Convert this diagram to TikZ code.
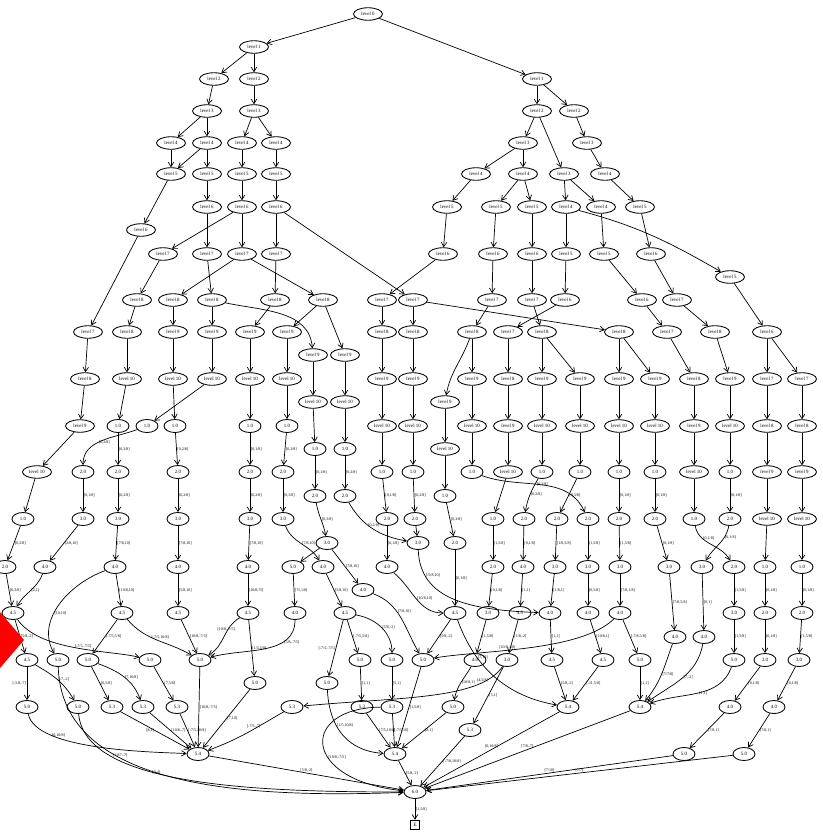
\documentclass[tikz,border=0pt]{standalone}
\usepackage{fontspec}
\setmainfont{Liberation Serif}
\usetikzlibrary{shapes.geometric,arrows.meta}
\begin{document}
\begin{tikzpicture}[x=1pt,y=-1pt,
 lv/.style={ellipse,draw,line width=0.85pt,minimum width=29pt,minimum height=12.5pt,inner sep=0pt,font=\fontsize{4.9}{5}\selectfont},
 nm/.style={ellipse,draw,line width=0.85pt,minimum width=22pt,minimum height=13pt,inner sep=0pt,font=\fontsize{4.9}{5}\selectfont},
 ed/.style={-{Straight Barb[length=4.5pt,width=5.5pt]},line width=0.7pt},
 lb/.style={font=\fontsize{4}{4.5}\selectfont,inner sep=0.6pt,right}]
\useasboundingbox (0,0) rectangle (822,835);
% ---------- top left tree
\node[lv] (n0) at (368,14) {level 0};
\node[lv] (a1) at (254,47) {level 1};
\node[lv] (a2) at (214,79) {level 2};
\node[lv] (a3) at (254,79) {level 2};
\node[lv] (a4) at (207,111) {level 3};
\node[lv] (a5) at (254,111) {level 3};
\node[lv] (a6) at (171,143) {level 4};
\node[lv] (a7) at (207,143) {level 4};
\node[lv] (a8) at (242,143) {level 4};
\node[lv] (a9) at (276,143) {level 4};
\node[lv] (a10) at (171,174) {level 5};
\node[lv] (a11) at (207,174) {level 5};
\node[lv] (a12) at (242,174) {level 5};
\node[lv] (a13) at (276,174) {level 5};
\node[lv] (a14) at (207,207) {level 6};
\node[lv] (a15) at (242,207) {level 6};
\node[lv] (a16) at (276,207) {level 6};
\node[lv] (a17) at (141,230) {level 6};
\node[lv] (a18) at (163,254) {level 7};
\node[lv] (a19) at (207,254) {level 7};
\node[lv] (a20) at (242,254) {level 7};
\node[lv] (a21) at (276,254) {level 7};
\node[lv] (c1) at (137,300) {level 8};
\node[lv] (c2) at (173,300) {level 8};
\node[lv] (c3) at (212,300) {level 8};
\node[lv] (c4) at (275,300) {level 8};
\node[lv] (c5) at (323,300) {level 8};
\node[lv] (d1) at (88,332) {level 7};
\node[lv] (d2) at (127,332) {level 8};
\node[lv] (d3) at (173,332) {level 9};
\node[lv] (d4) at (212,332) {level 9};
\node[lv] (d5) at (250,332) {level 9};
\node[lv] (d6) at (287,332) {level 9};
\node[lv] (e1) at (313,355) {level 9};
\node[lv] (e2) at (345,355) {level 9};
\node[lv] (f1) at (85,379) {level 8};
\node[lv] (f2) at (127,379) {level 10};
\node[lv] (f3) at (173,379) {level 10};
\node[lv] (f4) at (212,379) {level 10};
\node[lv] (f5) at (250,379) {level 10};
\node[lv] (f6) at (287,379) {level 10};
\node[lv] (g1) at (313,402) {level 10};
\node[lv] (g2) at (345,402) {level 10};
\node[lv] (h1) at (80,426) {level 9};
\node[nm] (h2) at (118,426) {1.0};
\node[nm] (h3) at (147,426) {1.0};
\node[nm] (h4) at (175,426) {1.0};
\node[nm] (h5) at (250,426) {1.0};
\node[nm] (h6) at (287,426) {1.0};
\node[nm] (i1) at (315,449) {1.0};
\node[nm] (i2) at (345,449) {1.0};
\node[lv] (j1) at (37,472) {level 10};
\node[nm] (j2) at (83,472) {2.0};
\node[nm] (j3) at (118,472) {2.0};
\node[nm] (j4) at (178,472) {2.0};
\node[nm] (j5) at (250,472) {2.0};
\node[nm] (j6) at (283,472) {2.0};
\node[nm] (k1) at (315,496) {2.0};
\node[nm] (k2) at (345,496) {2.0};
\node[nm] (l1) at (23,519) {1.0};
\node[nm] (l2) at (83,519) {3.0};
\node[nm] (l3) at (118,519) {3.0};
\node[nm] (l4) at (178,519) {3.0};
\node[nm] (l5) at (250,519) {3.0};
\node[nm] (l6) at (283,519) {3.0};
\node[nm] (m1) at (327,543) {3.0};
% ---------- top right tree
\node[lv] (b1) at (537,79) {level 1};
\node[lv] (b2) at (537,111) {level 2};
\node[lv] (b3) at (574,111) {level 2};
\node[lv] (b4) at (523,143) {level 3};
\node[lv] (b5) at (587,143) {level 3};
\node[lv] (b6) at (476,174) {level 4};
\node[lv] (b7) at (523,174) {level 4};
\node[lv] (b8) at (564,174) {level 3};
\node[lv] (b9) at (605,174) {level 4};
\node[lv] (b10) at (447,207) {level 5};
\node[lv] (b11) at (496,207) {level 5};
\node[lv] (b12) at (532,207) {level 5};
\node[lv] (b13) at (566,207) {level 4};
\node[lv] (b14) at (601,207) {level 4};
\node[lv] (b15) at (640,207) {level 5};
\node[lv] (b16) at (443,254) {level 6};
\node[lv] (b17) at (493,254) {level 6};
\node[lv] (b18) at (532,254) {level 6};
\node[lv] (b19) at (566,254) {level 5};
\node[lv] (b20) at (604,254) {level 5};
\node[lv] (b21) at (651,254) {level 6};
\node[lv] (b22) at (730,277) {level 5};
\node[lv] (p1) at (382,300) {level 7};
\node[lv] (p2) at (413,300) {level 7};
\node[lv] (p3) at (492,300) {level 7};
\node[lv] (p4) at (532,300) {level 7};
\node[lv] (p5) at (565,300) {level 6};
\node[lv] (p6) at (642,300) {level 6};
\node[lv] (p7) at (677,300) {level 7};
\node[lv] (q1) at (382,332) {level 8};
\node[lv] (q2) at (413,332) {level 8};
\node[lv] (q3) at (472,332) {level 8};
\node[lv] (q4) at (508,332) {level 7};
\node[lv] (q5) at (542,332) {level 8};
\node[lv] (q6) at (619,332) {level 8};
\node[lv] (q7) at (667,332) {level 7};
\node[lv] (q8) at (715,332) {level 8};
\node[lv] (q9) at (767,332) {level 6};
\node[lv] (r1) at (382,379) {level 9};
\node[lv] (r2) at (413,379) {level 9};
\node[lv] (r3) at (472,379) {level 9};
\node[lv] (r4) at (508,379) {level 8};
\node[lv] (r5) at (542,379) {level 9};
\node[lv] (r6) at (580,379) {level 9};
\node[lv] (r7) at (619,379) {level 9};
\node[lv] (r8) at (655,379) {level 9};
\node[lv] (r9) at (694,379) {level 8};
\node[lv] (r10) at (730,379) {level 9};
\node[lv] (r11) at (767,379) {level 7};
\node[lv] (r12) at (802,379) {level 7};
\node[lv] (s1) at (445,402) {level 9};
\node[lv] (t1) at (382,426) {level 10};
\node[lv] (t2) at (413,426) {level 10};
\node[lv] (t3) at (472,426) {level 10};
\node[lv] (t4) at (508,426) {level 9};
\node[lv] (t5) at (542,426) {level 10};
\node[lv] (t6) at (580,426) {level 10};
\node[lv] (t7) at (619,426) {level 10};
\node[lv] (t8) at (655,426) {level 10};
\node[lv] (t9) at (694,426) {level 9};
\node[lv] (t10) at (730,426) {level 10};
\node[lv] (t11) at (767,426) {level 8};
\node[lv] (t12) at (802,426) {level 8};
\node[lv] (u1) at (445,449) {level 10};
\node[nm] (v1) at (382,472) {1.0};
\node[nm] (v2) at (413,472) {1.0};
\node[nm] (v3) at (472,472) {1.0};
\node[lv] (v4) at (508,472) {level 10};
\node[nm] (v5) at (542,472) {1.0};
\node[nm] (v6) at (580,472) {1.0};
\node[nm] (v7) at (619,472) {1.0};
\node[nm] (v8) at (655,472) {1.0};
\node[lv] (v9) at (694,472) {level 10};
\node[nm] (v10) at (730,472) {1.0};
\node[lv] (v11) at (767,472) {level 9};
\node[lv] (v12) at (802,472) {level 9};
\node[nm] (w1) at (445,496) {1.0};
\node[nm] (x1) at (387,519) {2.0};
\node[nm] (x2) at (415,519) {2.0};
\node[nm] (x3) at (493,519) {1.0};
\node[nm] (x4) at (524,519) {2.0};
\node[nm] (x5) at (557,519) {2.0};
\node[nm] (x6) at (588,519) {2.0};
\node[nm] (x7) at (619,519) {2.0};
\node[nm] (x8) at (655,519) {2.0};
\node[nm] (x9) at (694,519) {1.0};
\node[nm] (x10) at (730,519) {2.0};
\node[lv] (x11) at (767,519) {level 10};
\node[lv] (x12) at (802,519) {level 10};
\node[nm] (y1) at (418,543) {3.0};
\node[nm] (y2) at (455,543) {2.0};
% ---------- row 567
\node[nm] (z1) at (5,567) {2.0};
\node[nm] (z2) at (45,567) {4.0};
\node[nm] (z3) at (115,567) {4.0};
\node[nm] (z4) at (178,567) {4.0};
\node[nm] (z5) at (248,567) {4.0};
\node[nm] (z6) at (293,567) {5.0};
\node[nm] (z7) at (323,567) {4.0};
\node[nm] (z8) at (387,567) {4.0};
\node[nm] (z19) at (363,590) {4.0};
\node[nm] (z9) at (493,567) {2.0};
\node[nm] (z10) at (523,567) {4.0};
\node[nm] (z11) at (555,567) {3.0};
\node[nm] (z12) at (588,567) {3.0};
\node[nm] (z13) at (620,567) {3.0};
\node[nm] (z14) at (669,567) {3.0};
\node[nm] (z15) at (702,567) {3.0};
\node[nm] (z16) at (734,567) {2.0};
\node[nm] (z17) at (765,567) {1.0};
\node[nm] (z18) at (802,567) {1.0};
% ---------- row 613
\node[nm] (A1) at (13,613) {4.5};
\node[nm] (A2) at (122,613) {4.5};
\node[nm] (A3) at (178,613) {4.5};
\node[nm] (A4) at (248,613) {4.5};
\node[nm] (A5) at (295,613) {4.0};
\node[nm] (A6) at (345,613) {4.5};
\node[nm] (A7) at (455,613) {4.5};
\node[nm] (A8) at (488,613) {3.0};
\node[nm] (A9) at (520,613) {4.5};
\node[nm] (A10) at (550,613) {4.0};
\node[nm] (A11) at (588,613) {4.0};
\node[nm] (A12) at (620,613) {4.0};
\node[nm] (A13) at (734,613) {3.0};
\node[nm] (A14) at (765,613) {2.0};
\node[nm] (A15) at (802,613) {2.0};
\node[nm] (A16) at (675,637) {4.0};
\node[nm] (A17) at (704,637) {4.0};
% ---------- row 660
\node[nm] (B1) at (27,660) {4.5};
\node[nm] (B2) at (58,660) {5.0};
\node[nm] (B3) at (88,660) {5.0};
\node[nm] (B4) at (150,660) {5.0};
\node[nm] (B5) at (200,660) {5.0};
\node[nm] (B6) at (255,683) {5.0};
\node[nm] (B7) at (327,683) {5.0};
\node[nm] (B8) at (360,660) {5.0};
\node[nm] (B9b) at (392,660) {5.0};
\node[nm] (B9) at (423,660) {5.0};
\node[nm] (B10) at (475,660) {4.0};
\node[nm] (B11) at (507,660) {3.0};
\node[nm] (B12) at (552,660) {4.5};
\node[nm] (B13) at (603,660) {4.5};
\node[nm] (B14) at (640,660) {5.0};
\node[nm] (B15) at (734,660) {5.0};
\node[nm] (B16) at (765,660) {3.0};
\node[nm] (B17) at (799,660) {3.0};
% ---------- row 707
\node[nm] (C1) at (27,707) {5.0};
\node[nm] (C2) at (78,707) {5.0};
\node[nm] (C3) at (112,707) {5.3};
\node[nm] (C4) at (143,707) {5.3};
\node[nm] (C5) at (177,707) {5.3};
\node[nm] (C6) at (292,707) {5.3};
\node[nm] (C7) at (362,707) {5.3};
\node[nm] (C8) at (392,707) {5.3};
\node[nm] (C9) at (453,707) {5.0};
\node[nm] (C14) at (470,730) {5.3};
\node[nm] (C10) at (568,707) {5.4};
\node[nm] (C11) at (640,707) {5.4};
\node[nm] (C12) at (730,707) {4.0};
\node[nm] (C13) at (774,707) {4.0};
% ---------- bottom
\node[nm] (D1) at (198,754) {5.4};
\node[nm] (D2) at (395,754) {5.4};
\node[nm] (D3) at (684,754) {5.0};
\node[nm] (D4) at (744,754) {5.0};
\node[nm] (F) at (415,792) {6.0};
\node[draw,rectangle,line width=1pt,minimum size=9.5pt,inner sep=0.5pt,font=\fontsize{4.9}{5}\selectfont] (E) at (415,825) {E};

% ================= edges: top
\draw[ed] (n0) -- (a1);
\draw[ed] (n0) -- (b1);
\draw[ed] (a1) -- (a2);
\draw[ed] (a1) -- (a3);
\draw[ed] (a2) -- (a4);
\draw[ed] (a3) -- (a5);
\draw[ed] (a4) -- (a6);
\draw[ed] (a4) -- (a7);
\draw[ed] (a5) -- (a8);
\draw[ed] (a5) -- (a9);
\draw[ed] (a6) -- (a10);
\draw[ed] (a7) -- (a10);
\draw[ed] (a7) -- (a11);
\draw[ed] (a8) -- (a12);
\draw[ed] (a9) -- (a13);
\draw[ed] (a10) -- (a17);
\draw[ed] (a11) -- (a14);
\draw[ed] (a12) -- (a15);
\draw[ed] (a13) -- (a16);
\draw[ed] (a14) -- (a19);
\draw[ed] (a15) -- (a18);
\draw[ed] (a15) -- (a20);
\draw[ed] (a16) -- (a21);
\draw[ed] (a16) -- (p2);
\draw[ed] (a17) -- (d1);
\draw[ed] (a18) -- (c1);
\draw[ed] (a19) -- (c3);
\draw[ed] (a20) -- (c2);
\draw[ed] (a20) -- (c5);
\draw[ed] (a21) -- (c4);
\draw[ed] (c1) -- (d2);
\draw[ed] (c2) -- (d3);
\draw[ed] (c3) -- (d4);
\draw[ed] (c3) to[out=-12,in=95] (e1);
\draw[ed] (c4) -- (d5);
\draw[ed] (c5) -- (d6);
\draw[ed] (c5) -- (e2);
\draw[ed] (d1) -- (f1);
\draw[ed] (d2) -- (f2);
\draw[ed] (d3) -- (f3);
\draw[ed] (d4) -- (f4);
\draw[ed] (d5) -- (f5);
\draw[ed] (d6) -- (f6);
\draw[ed] (e1) -- (g1);
\draw[ed] (e2) -- (g2);
\draw[ed] (f1) -- (h1);
\draw[ed] (f2) -- (h2);
\draw[ed] (f3) -- (h4);
\draw[ed] (f4) -- (h3);
\draw[ed] (f5) -- (h5);
\draw[ed] (f6) -- (h6);
\draw[ed] (g1) -- (i1);
\draw[ed] (g2) -- (i2);
\draw[ed] (h1) -- (j1);
\draw[ed] (h3) to[out=200,in=90] node[lb,pos=0.55]{[0,2/8]} (j2);
\draw[ed] (h2) -- node[lb]{[0,2/8]} (j3);
\draw[ed] (h4) -- node[lb]{[0,2/8]} (j4);
\draw[ed] (h5) -- node[lb]{[0,1/8]} (j5);
\draw[ed] (h6) -- node[lb]{[0,2/8]} (j6);
\draw[ed] (i1) -- node[lb]{[0,1/8]} (k1);
\draw[ed] (i2) -- node[lb]{[0,2/8]} (k2);
\draw[ed] (j1) -- (l1);
\draw[ed] (j2) -- node[lb]{[0,1/8]} (l2);
\draw[ed] (j3) -- node[lb]{[0,2/8]} (l3);
\draw[ed] (j4) -- node[lb]{[0,2/8]} (l4);
\draw[ed] (j5) -- node[lb]{[0,2/8]} (l5);
\draw[ed] (j6) -- node[lb]{[0,3/8]} (l6);
\draw[ed] (k1) to[out=-80,in=100] node[lb]{[0,3/8]} (m1);
\draw[ed] (k2) to[out=-60,in=170] node[lb,pos=0.4]{[0,2/8]} (y1);
% top right
\draw[ed] (b1) -- (b2);
\draw[ed] (b1) -- (b3);
\draw[ed] (b2) -- (b4);
\draw[ed] (b2) -- (b8);
\draw[ed] (b3) -- (b5);
\draw[ed] (b4) -- (b6);
\draw[ed] (b4) -- (b7);
\draw[ed] (b5) -- (b9);
\draw[ed] (b6) -- (b10);
\draw[ed] (b7) -- (b11);
\draw[ed] (b7) -- (b12);
\draw[ed] (b8) -- (b13);
\draw[ed] (b8) -- (b14);
\draw[ed] (b9) -- (b15);
\draw[ed] (b10) -- (b16);
\draw[ed] (b11) -- (b17);
\draw[ed] (b12) -- (b18);
\draw[ed] (b13) -- (b19);
\draw[ed] (b13) to[out=-15,in=150] (b22);
\draw[ed] (b14) -- (b20);
\draw[ed] (b15) -- (b21);
\draw[ed] (b16) -- (p1);
\draw[ed] (b17) -- (p3);
\draw[ed] (b18) -- (p4);
\draw[ed] (b19) -- (p5);
\draw[ed] (b20) -- (p6);
\draw[ed] (b21) -- (p7);
\draw[ed] (b22) -- (q9);
\draw[ed] (p1) -- (q1);
\draw[ed] (p2) -- (q2);
\draw[ed] (p2) -- (q6);
\draw[ed] (p3) -- (q3);
\draw[ed] (p4) -- (q5);
\draw[ed] (p5) -- (q4);
\draw[ed] (p6) -- (q7);
\draw[ed] (p7) -- (q8);
\draw[ed] (q1) -- (r1);
\draw[ed] (q2) -- (r2);
\draw[ed] (q3) -- (r3);
\draw[ed] (q3) to[out=-110,in=80] (s1);
\draw[ed] (q4) -- (r4);
\draw[ed] (q5) -- (r5);
\draw[ed] (q5) -- (r6);
\draw[ed] (q6) -- (r7);
\draw[ed] (q6) -- (r8);
\draw[ed] (q7) -- (r9);
\draw[ed] (q8) -- (r10);
\draw[ed] (q9) -- (r11);
\draw[ed] (q9) -- (r12);
\draw[ed] (r1) -- (t1);
\draw[ed] (r2) -- (t2);
\draw[ed] (r3) -- (t3);
\draw[ed] (r4) -- (t4);
\draw[ed] (r5) -- (t5);
\draw[ed] (r6) -- (t6);
\draw[ed] (r7) -- (t7);
\draw[ed] (r8) -- (t8);
\draw[ed] (r9) -- (t9);
\draw[ed] (r10) -- (t10);
\draw[ed] (r11) -- (t11);
\draw[ed] (r12) -- (t12);
\draw[ed] (s1) -- (u1);
\draw[ed] (t1) -- (v1);
\draw[ed] (t2) -- (v2);
\draw[ed] (t3) -- (v3);
\draw[ed] (t4) -- (v4);
\draw[ed] (t5) -- (v5);
\draw[ed] (t6) -- (v6);
\draw[ed] (t7) -- (v7);
\draw[ed] (t8) -- (v8);
\draw[ed] (t9) -- (v9);
\draw[ed] (t10) -- (v10);
\draw[ed] (t11) -- (v11);
\draw[ed] (t12) -- (v12);
\draw[ed] (u1) -- (w1);
\draw[ed] (v1) -- node[lb]{[0,1/8]} (x1);
\draw[ed] (v2) -- node[lb]{[0,2/8]} (x2);
\draw[ed] (v3) to[out=-20,in=115] node[lb,pos=0.45]{[0,1/8]} (x6);
\draw[ed] (v4) -- (x3);
\draw[ed] (v5) to[out=-120,in=80] node[lb]{[0,2/8]} (x4);
\draw[ed] (v6) -- node[lb]{[0,3/8]} (x5);
\draw[ed] (v7) -- node[lb]{[0,1/8]} (x7);
\draw[ed] (v8) -- node[lb]{[0,1/8]} (x8);
\draw[ed] (v9) -- (x9);
\draw[ed] (v10) -- node[lb]{[0,1/8]} (x10);
\draw[ed] (v11) -- (x11);
\draw[ed] (v12) -- (x12);
\draw[ed] (w1) -- node[lb]{[0,3/8]} (y2);
\draw[ed] (x2) -- (y1);
% ---------- to row 567
\draw[ed] (l1) -- node[lb]{[0,2/8]} (z1);
\draw[ed] (l2) -- node[lb]{[2/8,10]} (z2);
\draw[ed] (l3) -- node[lb]{[7/8,10]} (z3);
\draw[ed] (l4) -- node[lb]{[7/8,10]} (z4);
\draw[ed] (l5) -- node[lb]{[7/8,10]} (z5);
\draw[ed] (l6) to[out=-70,in=120] node[lb]{[7/8,10]} (z7);
\draw[ed] (m1) -- (z6);
\draw[ed] (m1) -- node[lb]{[7/8,10]} (z19);
\draw[ed] (x1) -- node[lb]{[0,1/8]} (z8);
\draw[ed] (x3) -- node[lb]{[1,5/8]} (z9);
\draw[ed] (x4) -- node[lb]{[0,1/8]} (z10);
\draw[ed] (x5) -- node[lb]{[1/8,5/8]} (z11);
\draw[ed] (x6) -- node[lb]{[1,5/8]} (z12);
\draw[ed] (x7) -- node[lb]{[1,5/8]} (z13);
\draw[ed] (x8) -- node[lb]{[0,1/8]} (z14);
\draw[ed] (x9) to[out=-80,in=120] node[lb,pos=0.3]{[0,1/8]} (z16);
\draw[ed] (x10) to[out=-100,in=60] node[lb,pos=0.3]{[0,1/8]} (z15);
\draw[ed] (x11) -- (z17);
\draw[ed] (x12) -- (z18);
% ---------- to row 613
\draw[ed] (z1) -- node[lb]{[0,3/8]} (A1);
\draw[ed] (z2) to[out=-110,in=60] node[lb]{[2,1]} (A1);
\draw[ed] (z3) -- node[lb]{[10/8,10]} (A2);
\draw[ed] (z3) to[out=200,in=120] node[lb,pos=0.6]{[10,10]} (B2);
\draw[ed] (z4) -- node[lb]{[5/8,10]} (A3);
\draw[ed] (z5) -- node[lb]{[10/8,?5]} (A4);
\draw[ed] (z6) -- node[lb]{[?5,1/8]} (A5);
\draw[ed] (z7) -- node[lb]{[5/8,10]} (A6);
\draw[ed] (z8) to[out=-40,in=180] node[lb]{[10/8,10]} (A7);
\draw[ed] (z19) to[out=-20,in=120] node[lb,pos=0.4]{[7/8,10]} (B9);
\draw[ed] (y2) -- node[lb]{[0,1/8]} (A7);
\draw[ed] (y1) .. controls (420,600) and (470,610) .. node[lb,pos=0.2]{[-5/8,10]} (A10);
\draw[ed] (z9) -- node[lb]{[0,1/8]} (A8);
\draw[ed] (z10) -- node[lb]{[1,1]} (A9);
\draw[ed] (z11) -- node[lb]{[1/8,1]} (A10);
\draw[ed] (z12) -- node[lb]{[0,5/8]} (A11);
\draw[ed] (z13) -- node[lb]{[7/8,1/8]} (A12);
\draw[ed] (z14) -- node[lb]{[7/8,5/8]} (A16);
\draw[ed] (z15) -- node[lb]{[0,1]} (A17);
\draw[ed] (z16) -- node[lb]{[1,5/8]} (A13);
\draw[ed] (z17) -- node[lb]{[0,1/8]} (A14);
\draw[ed] (z18) -- node[lb]{[0,1/8]} (A15);
% ---------- to row 660
\draw[ed] (A1) -- node[lb]{[5/8,-2]} (B1);
\draw[ed] (A1) .. controls (40,652) and (110,650) .. node[lb,above,pos=0.55]{[-7/5,-7/5]} (B4);
\draw[ed] (A2) -- node[lb]{[-7/5,5/8]} (B3);
\draw[ed] (A2) to[out=-50,in=150] node[lb,pos=0.4]{[-7/5,10/8]} (B5);
\draw[ed] (A3) -- node[lb]{[10/8,-7/5]} (B5);
\draw[ed] (A4) to[out=210,in=30] node[lb,above,pos=0.4]{[10/8,-7/5]} (B5);
\draw[ed] (A4) -- node[lb]{[1/5,5/8]} (B6);
\draw[ed] (A5) to[out=-90,in=15] node[lb,pos=0.3]{[5/8,-7/5]} (B5);
\draw[ed] (A6) -- node[lb,left]{[-7/5,-7/5]} (B7);
\draw[ed] (A6) -- node[lb]{[-7/5,5/8]} (B8);
\draw[ed] (A6) to[out=-10,in=90] node[lb,pos=0.5]{[5/8,-2]} (B9b);
\draw[ed] (A7) -- node[lb]{[5/8,-2]} (B9);
\draw[ed] (A7) to[out=-70,in=170] node[lb,pos=0.3]{[7,10]} (C10);
\draw[ed] (A8) -- node[lb]{[1,5/8]} (B10);
\draw[ed] (A9) -- node[lb]{[1/8,-2]} (B11);
\draw[ed] (A10) -- node[lb]{[1,1]} (B12);
\draw[ed] (A11) -- node[lb]{[10/8,1]} (B13);
\draw[ed] (A12) -- node[lb]{[-7/8,5/8]} (B14);
\draw[ed] (A12) .. controls (580,652) and (480,650) .. node[lb,above,pos=0.6]{[10/8,-10]} (B9);
\draw[ed] (A13) -- node[lb]{[1,5/8]} (B15);
\draw[ed] (A14) -- node[lb]{[0,1/8]} (B16);
\draw[ed] (A15) -- node[lb]{[1,5/8]} (B17);
\draw[ed] (A16) to[out=-110,in=50] node[lb]{[7/7/8]} (C11);
\draw[ed] (A17) to[out=-100,in=35] node[lb]{[7,-2]} (C11);
% ---------- to row 707
\draw[ed] (B1) -- node[lb,left]{[-5/8,-7]} (C1);
\draw[ed] (B1) to[out=-30,in=120] node[lb]{[-7,-2]} (C2);
\draw[ed] (B3) -- node[lb]{[0,5/8]} (C3);
\draw[ed] (B3) to[out=-20,in=110] node[lb]{[7,10/8]} (C4);
\draw[ed] (B4) -- node[lb]{[7,5/8]} (C5);
\draw[ed] (B8) -- node[lb]{[1,1]} (C7);
\draw[ed] (B9b) -- node[lb]{[5,1]} (C8);
\draw[ed] (B10) to[out=-120,in=80] node[lb]{[10/8,1]} (C9);
\draw[ed] (B11) -- node[lb]{[5,1]} (C14);
\draw[ed] (B11) .. controls (480,700) and (400,697) .. node[lb,above,pos=0.2]{[4,5/8]} (C6);
\draw[ed] (B12) -- node[lb]{[5/8,-2]} (C10);
\draw[ed] (B13) -- node[lb]{[-11,5/8]} (C10);
\draw[ed] (B14) -- node[lb]{[1,1]} (C11);
\draw[ed] (B15) to[out=-110,in=20] node[lb]{[1,1]} (C11);
\draw[ed] (B16) -- node[lb]{[0,1/8]} (C12);
\draw[ed] (B17) -- node[lb]{[0,1/8]} (C13);
% ---------- to bottom
\draw[ed] (B5) -- node[lb]{[10/8,-7/5]} (D1);
\draw[ed] (B6) -- node[lb]{[7,10]} (D1);
\draw[ed] (B7) .. controls (330,740) and (360,752) .. node[lb,pos=0.3]{[1/5,10/8]} (D2);
\draw[ed] (B9) -- node[lb]{[1,5/8]} (D2);
\draw[ed] (C1) .. controls (35,750) and (150,752) .. node[lb,above,pos=0.3]{[0,10/8]} (D1);
\draw[ed] (C3) -- node[lb,left]{[8,1]} (D1);
\draw[ed] (C4) -- node[lb]{[10/8,-7]} (D1);
\draw[ed] (C5) -- node[lb]{[-7/5,10/8]} (D1);
\draw[ed] (C6) to[out=-150,in=20] node[lb,above,pos=0.4]{[-7/5,-7]} (D1);
\draw[ed] (C7) -- node[lb]{[7/5,10/8]} (D2);
\draw[ed] (C8) -- node[lb]{[-7/5,10]} (D2);
\draw[ed] (C9) -- node[lb]{[8,1]} (D2);
\draw[ed] (C12) -- node[lb]{[7/8,1]} (D3);
\draw[ed] (C13) -- node[lb]{[7/8,1]} (D4);
\draw[ed] (B2) .. controls (62,790) and (250,798) .. node[lb,above,pos=0.35]{[10/7,-7]} (F);
\draw[ed] (C2) .. controls (85,785) and (250,792) .. node[lb,pos=0.4]{[3,4]} (F);
\draw[ed] (C8) .. controls (300,708) and (300,780) .. node[lb,pos=0.6]{[10/8,-7/5]} (F);
\draw[ed] (D1) -- node[lb,above]{[5/8,-2]} (F);
\draw[ed] (D2) -- node[lb]{[5/8,-2]} (F);
\draw[ed] (C14) -- node[lb]{[-7/8,10/8]} (F);
\draw[ed] (C10) -- node[lb,above]{[0,10/8]} (F);
\draw[ed] (C11) -- node[lb,above]{[7/8,-7]} (F);
\draw[ed] (D3) -- node[lb,above]{[7/10]} (F);
\draw[ed] (D4) -- node[lb,above]{[7/7]} (F);
\draw[ed] (F) -- node[lb]{[1,5/8]} (E);
% red marker
\fill[red] (0,612) -- (24,640) -- (0,668) -- (-24,640) -- cycle;
\end{tikzpicture}
\end{document}
